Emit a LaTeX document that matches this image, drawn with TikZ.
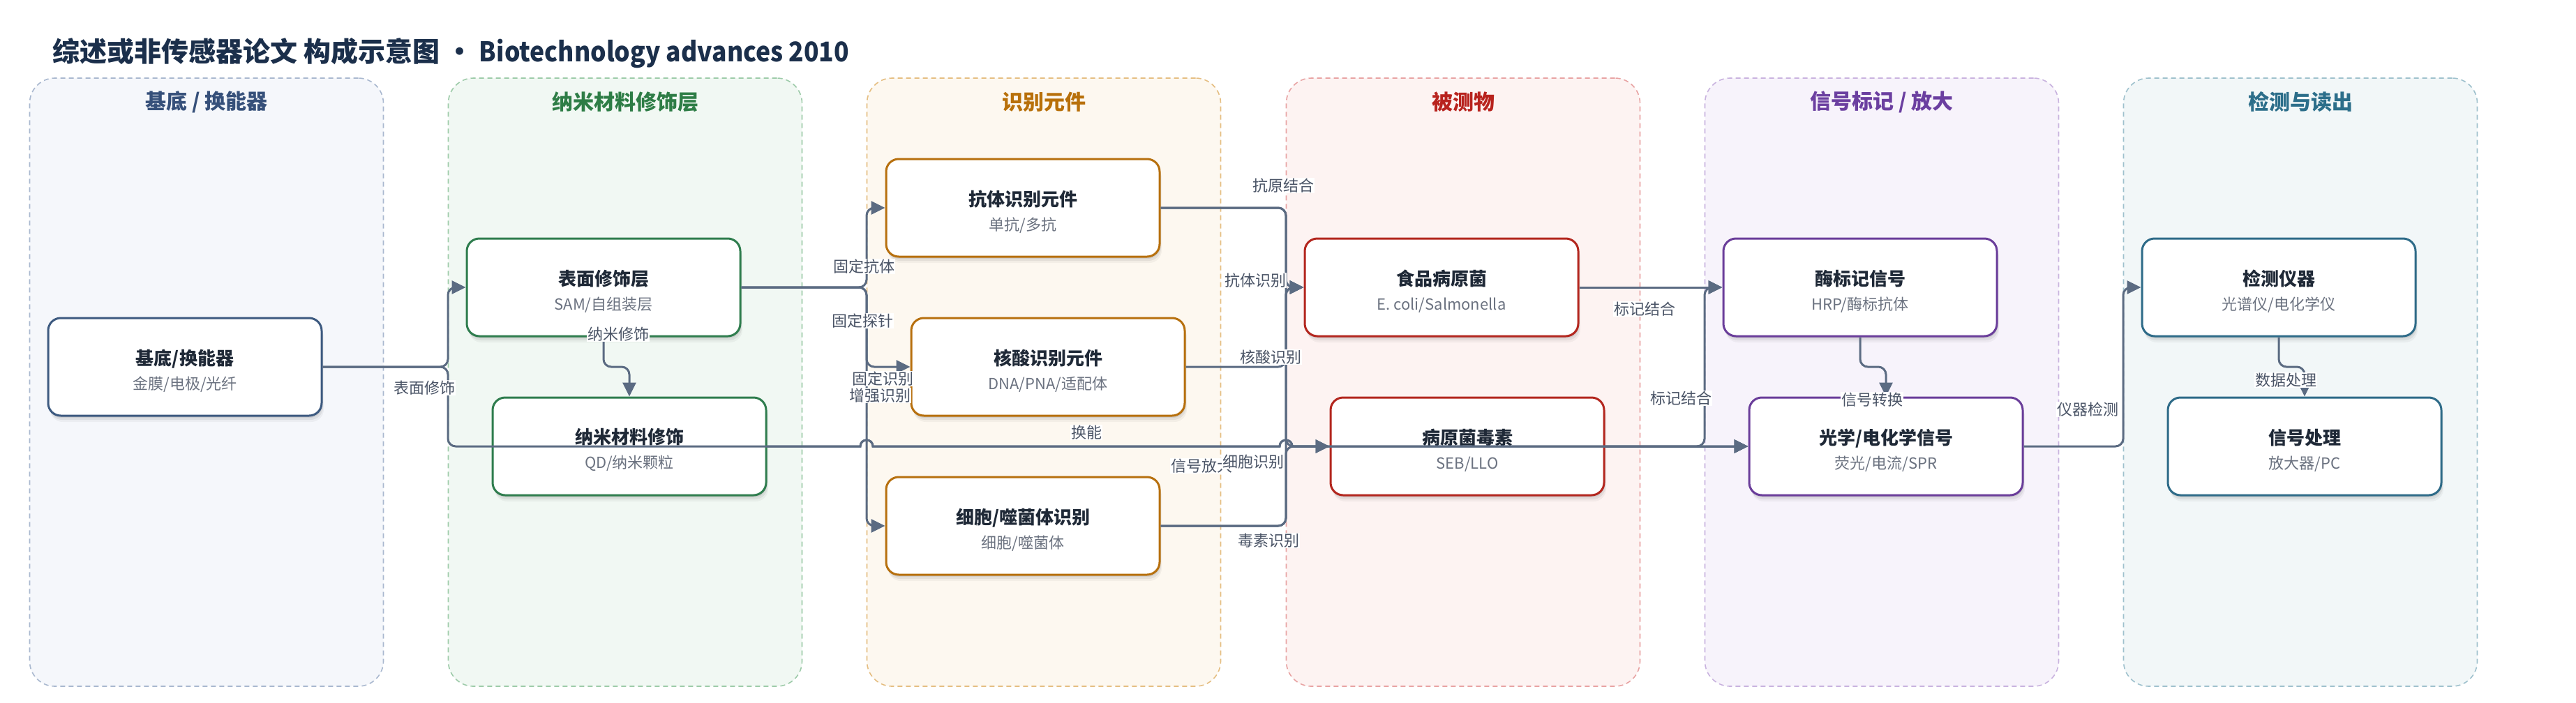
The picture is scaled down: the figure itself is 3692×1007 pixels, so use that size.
\documentclass[tikz,border=0pt]{standalone}
\usepackage{fontspec}
\setmainfont{Noto Sans CJK SC}
\usetikzlibrary{arrows.meta,shadows}

\definecolor{edgec}{HTML}{5B6B82}
\definecolor{lblc}{HTML}{4A5466}
\definecolor{titlec}{HTML}{1B2F4B}
\definecolor{boxtxt}{HTML}{1F2937}
\definecolor{subc}{HTML}{6B7280}
% panel colours: fill, border, header, box border
\definecolor{pAf}{HTML}{F5F7FB}\definecolor{pAb}{HTML}{A9B8CF}\definecolor{pAh}{HTML}{36507A}\definecolor{pAx}{HTML}{3D5A80}
\definecolor{pBf}{HTML}{F1F8F3}\definecolor{pBb}{HTML}{9DCBA9}\definecolor{pBh}{HTML}{2E7D46}\definecolor{pBx}{HTML}{2F7D4E}
\definecolor{pCf}{HTML}{FDF8F0}\definecolor{pCb}{HTML}{E5BE82}\definecolor{pCh}{HTML}{B8700A}\definecolor{pCx}{HTML}{B7700E}
\definecolor{pDf}{HTML}{FDF3F2}\definecolor{pDb}{HTML}{E8A3A3}\definecolor{pDh}{HTML}{B8231E}\definecolor{pDx}{HTML}{B3261E}
\definecolor{pEf}{HTML}{F7F3FB}\definecolor{pEb}{HTML}{C9B3DF}\definecolor{pEh}{HTML}{6B3FA0}\definecolor{pEx}{HTML}{6A3D9A}
\definecolor{pFf}{HTML}{F2F7F8}\definecolor{pFb}{HTML}{9FC1CD}\definecolor{pFh}{HTML}{2C6E8A}\definecolor{pFx}{HTML}{2E6B88}

\tikzset{
  panelbox/.style={rounded corners=36pt, line width=1.6pt, dash pattern=on 7pt off 5pt,
    minimum width=507pt, minimum height=872pt, inner sep=0pt},
  panelhead/.style={font=\fontsize{30}{34}\selectfont\bfseries, inner sep=0pt},
  box/.style={line width=3pt, fill=white, rounded corners=18pt,
    minimum width=392pt, minimum height=140pt, align=center, inner sep=0pt,
    text=boxtxt, font=\fontsize{22}{35}\selectfont,
    drop shadow={shadow xshift=1pt, shadow yshift=-3pt, opacity=0.08, fill=black},
    drop shadow={shadow xshift=2pt, shadow yshift=-6pt, opacity=0.06, fill=black},
    drop shadow={shadow xshift=3pt, shadow yshift=-9pt, opacity=0.04, fill=black}},
  conn/.style={draw=edgec, line width=3pt, rounded corners=11pt},
  arr/.style={-{Triangle[length=20pt,width=19pt]}},
  lbl/.style={fill=white, inner sep=1pt, text=lblc, font=\fontsize{22}{24}\selectfont},
}
\newcommand{\bt}[2]{\rule{0pt}{33pt}{\fontsize{26}{35}\selectfont\bfseries #1}\\{\color{subc}#2}}

\begin{document}
\begin{tikzpicture}[x=1pt,y=-1pt]
\fill[white] (0,0) rectangle (3692,1007);
\useasboundingbox (0,0) rectangle (3692,1007);

% title
\node[anchor=west, inner sep=0pt, text=titlec, font=\fontsize{39}{44}\selectfont\bfseries] (title) at (75,76)
  {综述或非传感器论文 构成示意图 \textbullet{} \scalebox{0.91}[1]{Biotechnology advances 2010}};

% panels
\node[panelbox, draw=pAb, fill=pAf] (P1) at (296,548) {};
\node[panelbox, draw=pBb, fill=pBf] (P2) at (896,548) {};
\node[panelbox, draw=pCb, fill=pCf] (P3) at (1496,548) {};
\node[panelbox, draw=pDb, fill=pDf] (P4) at (2097,548) {};
\node[panelbox, draw=pEb, fill=pEf] (P5) at (2697,548) {};
\node[panelbox, draw=pFb, fill=pFf] (P6) at (3297,548) {};

\node[panelhead, text=pAh] (H1) at (296,146) {基底 / 换能器};
\node[panelhead, text=pBh] (H2) at (896,146) {纳米材料修饰层};
\node[panelhead, text=pCh] (H3) at (1496,146) {识别元件};
\node[panelhead, text=pDh] (H4) at (2097,146) {被测物};
\node[panelhead, text=pEh] (H5) at (2697,146) {信号标记 / 放大};
\node[panelhead, text=pFh] (H6) at (3297,146) {检测与读出};

% boxes
\node[box, draw=pAx] (sub)  at (265,526)  {\bt{基底/换能器}{金膜/电极/光纤}};
\node[box, draw=pBx] (surf) at (865,412)  {\bt{表面修饰层}{SAM/自组装层}};
\node[box, draw=pBx] (nano) at (902,640)  {\bt{纳米材料修饰}{QD/纳米颗粒}};
\node[box, draw=pCx] (ab)   at (1466,298) {\bt{抗体识别元件}{单抗/多抗}};
\node[box, draw=pCx] (na)   at (1502,526) {\bt{核酸识别元件}{DNA/PNA/适配体}};
\node[box, draw=pCx] (cell) at (1466,754) {\bt{细胞/噬菌体识别}{细胞/噬菌体}};
\node[box, draw=pDx] (food) at (2066,412) {\bt{食品病原菌}{E. coli/Salmonella}};
\node[box, draw=pDx] (tox)  at (2103,640) {\bt{病原菌毒素}{SEB/LLO}};
\node[box, draw=pEx] (enz)  at (2666,412) {\bt{酶标记信号}{HRP/酶标抗体}};
\node[box, draw=pEx] (opt)  at (2703,640) {\bt{光学/电化学信号}{荧光/电流/SPR}};
\node[box, draw=pFx] (inst) at (3266,412) {\bt{检测仪器}{光谱仪/电化学仪}};
\node[box, draw=pFx] (proc) at (3303,640) {\bt{信号处理}{放大器/PC}};

% connectors
\draw[conn,arr] (sub.east) -- (642,526) -- (642,412) -- (surf.west);
\draw[conn,arr] (surf.south) -- (865,526) -- (902,526) -- (nano.north);

\draw[conn,arr] (surf.east) -- (1242,412) -- (1242,298) -- (ab.west);
\draw[conn,arr] (surf.east) -- (1242,412) -- (1242,526) -- (na.west);
\draw[conn,arr] (surf.east) -- (1242,412) -- (1242,754) -- (cell.west);

\draw[conn,arr] (ab.east) -- (1843,298) -- (1843,412) -- (food.west);
\draw[conn,arr] (na.east) -- (1843,526) -- (1843,412) -- (food.west);
\draw[conn,arr] (cell.east) -- (1843,754) -- (1843,412) -- (food.west);
\draw[conn,arr] (ab.east) -- (1843,298) -- (1843,640) -- (tox.west);
\draw[conn,arr] (cell.east) -- (1843,754) -- (1843,640) -- (tox.west);

\draw[conn,arr] (sub.east) -- (642,526) -- (642,640) -- (1100,640) [sharp corners]
  -- (1233,640) .. controls (1233,628) and (1251,628) .. (1251,640)
  -- (1834,640) .. controls (1834,628) and (1852,628) .. (1852,640) -- (opt.west);
\draw[conn,arr,sharp corners] (nano.east)
  -- (1233,640) .. controls (1233,628) and (1251,628) .. (1251,640)
  -- (1834,640) .. controls (1834,628) and (1852,628) .. (1852,640) -- (opt.west);

\draw[conn,arr] (food.east) -- (enz.west);
\draw[conn,arr] (tox.east) -- (2443,640) -- (2443,412) -- (enz.west);
\draw[conn,arr] (tox.east) -- (opt.west);
\draw[conn,arr] (enz.south) -- (2666,526) -- (2703,526) -- (opt.north);
\draw[conn,arr] (opt.east) -- (3043,640) -- (3043,412) -- (inst.west);
\draw[conn,arr] (inst.south) -- (3266,526) -- (3303,526) -- (proc.north);

% connector labels
\node[lbl] (l1)  at (608,556)  {表面修饰};
\node[lbl] (l2)  at (886,479)  {纳米修饰};
\node[lbl] (l3)  at (1238,382) {固定抗体};
\node[lbl] (l4)  at (1236,460) {固定探针};
\node[lbl] (l5)  at (1265,543) {固定识别};
\node[lbl] (l6)  at (1261,567) {增强识别};
\node[lbl] (l7)  at (1557,620) {换能};
\node[lbl] (l8)  at (1722,668) {信号放大};
\node[lbl] (l9)  at (1796,662) {细胞识别};
\node[lbl] (l10) at (1839,266) {抗原结合};
\node[lbl] (l11) at (1799,402) {抗体识别};
\node[lbl] (l12) at (1821,512) {核酸识别};
\node[lbl] (l13) at (1818,775) {毒素识别};
\node[lbl] (l14) at (2357,443) {标记结合};
\node[lbl] (l15) at (2409,571) {标记结合};
\node[lbl] (l16) at (2683,573) {信号转换};
\node[lbl] (l17) at (2992,587) {仪器检测};
\node[lbl] (l18) at (3276,545) {数据处理};
\end{tikzpicture}
\end{document}
